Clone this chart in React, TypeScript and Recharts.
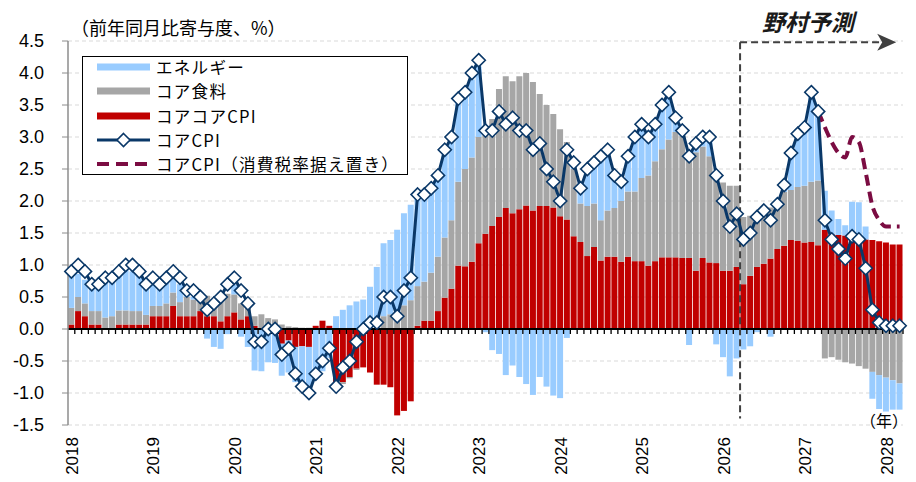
import React from 'react';
import {
  ComposedChart,
  Bar,
  Line,
  XAxis,
  YAxis,
  CartesianGrid,
  ReferenceLine,
} from 'recharts';

// Monthly categories: 2018-01 .. 2028-03
const years = [2018, 2019, 2020, 2021, 2022, 2023, 2024, 2025, 2026, 2027, 2028];
const months: string[] = [];
years.forEach((y) => {
  for (let m = 1; m <= 12; m++) months.push(`${y}-${String(m).padStart(2, '0')}`);
});
months.length = 123;

// Contributions to y/y core CPI (percentage points)
const coreCore = [
  0.07, 0.28, 0.2, 0.07, 0.07, 0, 0, 0.07, 0.07, 0.07, 0.07, 0.07,
  0.2, 0.2, 0.2, 0.36, 0.2, 0.2, 0.2, 0.28, 0.2, 0.2, 0.12, 0.2,
  0.26, 0.15, 0.2, 0.05, 0, 0, 0, -0.23, -0.18, -0.28, -0.27, -0.28,
  0.05, 0.13, 0.05, -0.88, -0.83, -0.75, -0.62, -0.6, -0.68, -0.87, -0.87, -0.91,
  -1.35, -1.28, -1.13, 0.05, 0.13, 0.13, 0.28, 0.49, 0.63, 0.99, 0.98, 1.05,
  1.34, 1.49, 1.61, 1.75, 1.89, 1.81, 1.87, 1.93, 1.85, 1.92, 1.92, 1.9,
  1.76, 1.71, 1.45, 1.36, 1.14, 1.28, 1.07, 1.13, 1.13, 1.05, 1.13, 1.06,
  1.06, 0.99, 1.06, 1.12, 1.12, 1.12, 1.11, 1.11, 0.91, 1.11, 1.04, 1.03,
  0.91, 0.91, 0.97, 0.7, 0.83, 0.97, 1.02, 1.1, 1.25, 1.3, 1.39, 1.38,
  1.35, 1.36, 1.31, 1.55, 1.48, 1.47, 1.46, 1.43, 1.42, 1.4, 1.39, 1.37,
  1.35, 1.32, 1.32,
];

const coreFood = [
  0.26, 0.22, 0.2, 0.21, 0.21, 0.18, 0.2, 0.22, 0.22, 0.21, 0.21, 0.15,
  0.16, 0.16, 0.2, 0.21, 0.22, 0.3, 0.26, 0.18, 0.32, 0.25, 0.36, 0.35,
  0.28, 0.25, 0.13, 0.15, 0.23, 0.17, 0.15, 0.07, 0.04, 0.03, 0.02, 0.02,
  0, 0, 0, -0.05, -0.03, -0.02, -0.02, 0, 0.02, 0.05, 0.2, 0.23,
  0.3, 0.37, 0.45, 0.62, 0.61, 0.75, 0.85, 0.94, 1.07, 1.31, 1.52, 1.63,
  1.66, 1.55, 1.67, 2.0, 2.06, 2.06, 2.08, 2.07, 2.01, 1.75, 1.58, 1.46,
  1.36, 1.21, 1.05, 0.6, 0.78, 0.68, 0.63, 0.72, 0.76, 0.95, 1.02, 1.09,
  1.3, 1.41, 1.56, 1.69, 1.84, 1.96, 1.91, 1.65, 1.85, 1.74, 1.66, 1.4,
  1.38, 1.33, 1.27, 1.05, 0.94, 0.83, 0.8, 0.8, 0.72, 0.84, 0.78, 0.84,
  0.89, 0.94, 1.01, -0.46, -0.44, -0.48, -0.52, -0.54, -0.58, -0.62, -0.67, -0.72,
  -0.76, -0.8, -0.85,
];

const energy = [
  0.5, 0.36, 0.37, 0.42, 0.42, 0.59, 0.6, 0.57, 0.63, 0.62, 0.56, 0.46,
  0.4, 0.32, 0.36, 0.23, 0.28, 0.08, 0.04, 0.02, -0.15, -0.28, -0.31, -0.08,
  0.15, -0.12, -0.28, -0.65, -0.66, -0.52, -0.53, -0.5, -0.5, -0.55, -0.6, -0.6,
  -0.72, -0.66, -0.45, 0.2, 0.3, 0.37, 0.43, 0.46, 0.64, 0.92, 1.14, 1.16,
  1.25, 1.44, 1.49, 1.43, 1.32, 1.3, 1.27, 1.35, 1.27, 1.27, 1.2, 1.22,
  1.1, -0.05, -0.33, -0.39, -0.72, -0.57, -0.75, -0.86, -1.03, -0.75, -0.9, -1.04,
  -1.08, -0.14, 0.12, 0.24, 0.58, 0.64, 0.98, 0.95, 0.5, 0.28, 0.55, 0.85,
  0.84, 0.6, 0.58, 0.69, 0.74, 0.22, 0.08, -0.25, 0.1, 0.12, 0.28, -0.24,
  -0.44, -0.74, -0.46, -0.32, -0.27, -0.05, 0.02, -0.12, 0, 0.13, 0.56, 0.82,
  0.9, 1.32, 1.0, 0.61, 0.37, 0.25, 0.16, 0.56, 0.56, 0.2, -0.42, -0.53,
  -0.53, -0.46, -0.41,
];

// Core CPI, y/y %
const coreCpi = [
  0.9, 1.0, 0.9, 0.7, 0.7, 0.8, 0.8, 0.9, 1.0, 1.0, 0.9, 0.7,
  0.8, 0.7, 0.8, 0.9, 0.8, 0.6, 0.6, 0.5, 0.3, 0.4, 0.5, 0.7,
  0.8, 0.6, 0.4, -0.2, -0.2, 0.0, 0.0, -0.4, -0.3, -0.7, -0.9, -1.0,
  -0.7, -0.5, -0.3, -0.9, -0.6, -0.5, -0.2, 0.0, 0.1, 0.1, 0.5, 0.5,
  0.2, 0.6, 0.8, 2.1, 2.1, 2.2, 2.4, 2.8, 3.0, 3.6, 3.7, 4.0,
  4.2, 3.1, 3.1, 3.4, 3.2, 3.3, 3.1, 3.1, 2.8, 2.9, 2.5, 2.3,
  2.0, 2.8, 2.6, 2.2, 2.5, 2.6, 2.7, 2.8, 2.4, 2.3, 2.7, 3.0,
  3.2, 3.0, 3.2, 3.5, 3.7, 3.3, 3.1, 2.7, 2.9, 3.0, 3.0, 2.4,
  2.0, 1.6, 1.8, 1.4, 1.5, 1.75, 1.85, 1.7, 1.95, 2.25, 2.75, 3.05,
  3.15, 3.7, 3.4, 1.7, 1.4, 1.25, 1.1, 1.45, 1.4, 0.95, 0.3, 0.1,
  0.05, 0.05, 0.05,
];

// Core CPI assuming the consumption tax rate stays unchanged (from 2027-03)
const taxFixedStart = '2027-03';
const coreCpiTaxFixed = [3.4, 3.15, 2.92, 2.75, 2.68, 3.0, 2.92, 2.45, 1.92, 1.7, 1.6, 1.6, 1.6];

const forecastStart = '2026-04';
const forecastArrowEnd = '2028-03';

const yTicks = [-1.5, -1.0, -0.5, 0, 0.5, 1.0, 1.5, 2.0, 2.5, 3.0, 3.5, 4.0, 4.5];

const titleText = '（前年同月比寄与度、%）';
const forecastText = '野村予測';
const yearUnitText = '（年）';

const C_ENERGY = '#99CCFF';
const C_FOOD = '#A6A6A6';
const C_CORECORE = '#C00000';
const C_CPI = '#0A3868';
const C_TAX = '#7B0C42';

const legendItems = [
  { label: 'エネルギー', kind: 'bar', color: C_ENERGY },
  { label: 'コア食料', kind: 'bar', color: C_FOOD },
  { label: 'コアコアCPI', kind: 'bar', color: C_CORECORE },
  { label: 'コアCPI', kind: 'line', color: C_CPI },
  { label: 'コアCPI（消費税率据え置き）', kind: 'dash', color: C_TAX },
];

const taxStartIdx = months.indexOf(taxFixedStart);
const data = months.map((m, i) => ({
  month: m,
  coreCore: coreCore[i],
  food: coreFood[i],
  energy: energy[i],
  cpi: coreCpi[i],
  taxFixed: i >= taxStartIdx ? coreCpiTaxFixed[i - taxStartIdx] : null,
}));

const NUM_FONT = '"Liberation Sans", Arial, sans-serif';
const JP_FONT = '"Noto Sans CJK JP", "Noto Sans", sans-serif';

const YearTick = (props: any) => {
  const { x, y, payload } = props;
  const label = String(payload.value).slice(0, 4);
  return (
    <text
      x={x + 1}
      y={y}
      transform={`rotate(-90 ${x + 1} ${y})`}
      textAnchor="end"
      dominantBaseline="central"
      fontSize={17}
      fontFamily={NUM_FONT}
      fill="#000"
    >
      {label}
    </text>
  );
};

// Zero line with a small tick at every month boundary
const ZeroAxis = (props: any) => {
  const { x1, x2, y1 } = props;
  const left = Math.min(x1, x2);
  const right = Math.max(x1, x2);
  const n = months.length;
  const step = (right - left) / n;
  let d = '';
  for (let k = 1; k <= n; k++) {
    const x = left + k * step;
    d += `M${x},${y1}V${y1 + 5}`;
  }
  return (
    <g>
      <path d={d} stroke="#000" strokeWidth={1.3} fill="none" />
      <line x1={left} x2={right} y1={y1} y2={y1} stroke="#000" strokeWidth={2} />
    </g>
  );
};

// Top edge of the forecast bracket, ending in an arrow head
const ArrowLine = (props: any) => {
  const { x1, x2, y1 } = props;
  const left = Math.min(x1, x2);
  const tip = Math.max(x1, x2);
  return (
    <g>
      <line x1={left} x2={tip - 14} y1={y1} y2={y1} stroke="#404040" strokeWidth={2} strokeDasharray="7 4" />
      <path
        d={`M${tip},${y1}L${tip - 19},${y1 - 8.5}L${tip - 14},${y1}L${tip - 19},${y1 + 8.5}Z`}
        fill="#404040"
      />
    </g>
  );
};

const Diamond = (props: any) => {
  const { cx, cy, index } = props;
  if (cx == null || cy == null) return <g key={`d-${index}`} />;
  const r = 6.6;
  return (
    <path
      key={`d-${index}`}
      d={`M${cx},${cy - r}L${cx + r},${cy}L${cx},${cy + r}L${cx - r},${cy}Z`}
      fill="#fff"
      stroke={C_CPI}
      strokeWidth={1.6}
    />
  );
};

const ROW_GAP = 24.3;

const LegendBox = () => (
  <div
    style={{
      position: 'absolute',
      left: 82,
      top: 56,
      width: 326,
      height: 119,
      border: '1.5px solid #000',
      background: '#fff',
      boxSizing: 'border-box',
    }}
  >
    {legendItems.map((item, i) => {
      const cy = 10 + i * ROW_GAP;
      return (
        <div key={item.label} style={{ position: 'absolute', left: 0, top: cy - 11, height: 22, width: 320 }}>
          <svg width={60} height={22} style={{ position: 'absolute', left: 14, top: 0 }}>
            {item.kind === 'bar' && <rect x={0} y={7.5} width={53} height={7} fill={item.color} />}
            {item.kind === 'line' && (
              <g>
                <line x1={0} x2={53} y1={11} y2={11} stroke={item.color} strokeWidth={3} />
                <path d="M26.5,4.5L33,11L26.5,17.5L20,11Z" fill="#fff" stroke={item.color} strokeWidth={1.6} />
              </g>
            )}
            {item.kind === 'dash' && (
              <line x1={0} x2={53} y1={11} y2={11} stroke={item.color} strokeWidth={4} strokeDasharray="12 7" />
            )}
          </svg>
          <div
            style={{
              position: 'absolute',
              left: 73,
              top: 0,
              height: 22,
              lineHeight: '22px',
              fontSize: 16.6,
              letterSpacing: 1.2,
              fontFamily: JP_FONT,
              color: '#000',
              whiteSpace: 'nowrap',
            }}
          >
            {item.label}
          </div>
        </div>
      );
    })}
  </div>
);

export default function App() {
  return (
    <div style={{ position: 'absolute', left: 0, top: 0, width: 916, height: 482, background: '#fff' }}>
      <ComposedChart
        width={916}
        height={482}
        data={data}
        margin={{ top: 41, right: 13, bottom: 0, left: 0 }}
        stackOffset="sign"
        barCategoryGap={0.3}
      >
        <CartesianGrid vertical={false} stroke="#D9D9D9" strokeDasharray="4 3" />
        <XAxis
          dataKey="month"
          interval={11}
          axisLine={false}
          tickLine={false}
          tickMargin={6}
          height={57}
          tick={<YearTick />}
        />
        <YAxis
          domain={[-1.5, 4.5]}
          ticks={yTicks}
          width={68}
          tickSize={6}
          tickMargin={18}
          interval={0}
          allowDataOverflow
          axisLine={{ stroke: '#8C8C8C', strokeWidth: 1.5 }}
          tickLine={{ stroke: '#8C8C8C', strokeWidth: 1 }}
          tick={{ fill: '#000', fontSize: 18, fontFamily: NUM_FONT }}
          tickFormatter={(v: number) => v.toFixed(1)}
        />
        <Bar dataKey="coreCore" stackId="a" fill={C_CORECORE} isAnimationActive={false} />
        <Bar dataKey="food" stackId="a" fill={C_FOOD} isAnimationActive={false} />
        <Bar dataKey="energy" stackId="a" fill={C_ENERGY} isAnimationActive={false} />
        <ReferenceLine y={0} shape={ZeroAxis} />
        <ReferenceLine
          segment={[
            { x: forecastStart, y: 4.48 },
            { x: forecastStart, y: -1.4 },
          ]}
          position="start"
          stroke="#404040"
          strokeWidth={2}
          strokeDasharray="7 4"
        />
        <ReferenceLine
          segment={[
            { x: forecastStart, y: 4.48 },
            { x: forecastArrowEnd, y: 4.48 },
          ]}
          position="start"
          shape={ArrowLine}
        />
        <Line
          dataKey="taxFixed"
          type="monotone"
          stroke={C_TAX}
          strokeWidth={4}
          strokeDasharray="11 6"
          dot={false}
          isAnimationActive={false}
        />
        <Line
          dataKey="cpi"
          type="linear"
          stroke={C_CPI}
          strokeWidth={3}
          dot={<Diamond />}
          isAnimationActive={false}
        />
      </ComposedChart>
      <LegendBox />
      <div
        style={{
          position: 'absolute',
          left: 71,
          top: 18,
          height: 18,
          fontSize: 18,
          lineHeight: '18px',
          fontFamily: JP_FONT,
          color: '#000',
          whiteSpace: 'nowrap',
        }}
      >
        {titleText}
      </div>
      <div
        style={{
          position: 'absolute',
          left: 762,
          top: 10,
          height: 23,
          fontSize: 23,
          lineHeight: '23px',
          fontFamily: JP_FONT,
          fontWeight: 'bold',
          fontStyle: 'italic',
          color: '#1a1a1a',
          whiteSpace: 'nowrap',
        }}
      >
        {forecastText}
      </div>
      <div
        style={{
          position: 'absolute',
          left: 860,
          top: 412,
          height: 16,
          fontSize: 16,
          lineHeight: '16px',
          fontFamily: JP_FONT,
          color: '#000',
          whiteSpace: 'nowrap',
        }}
      >
        {yearUnitText}
      </div>
    </div>
  );
}
